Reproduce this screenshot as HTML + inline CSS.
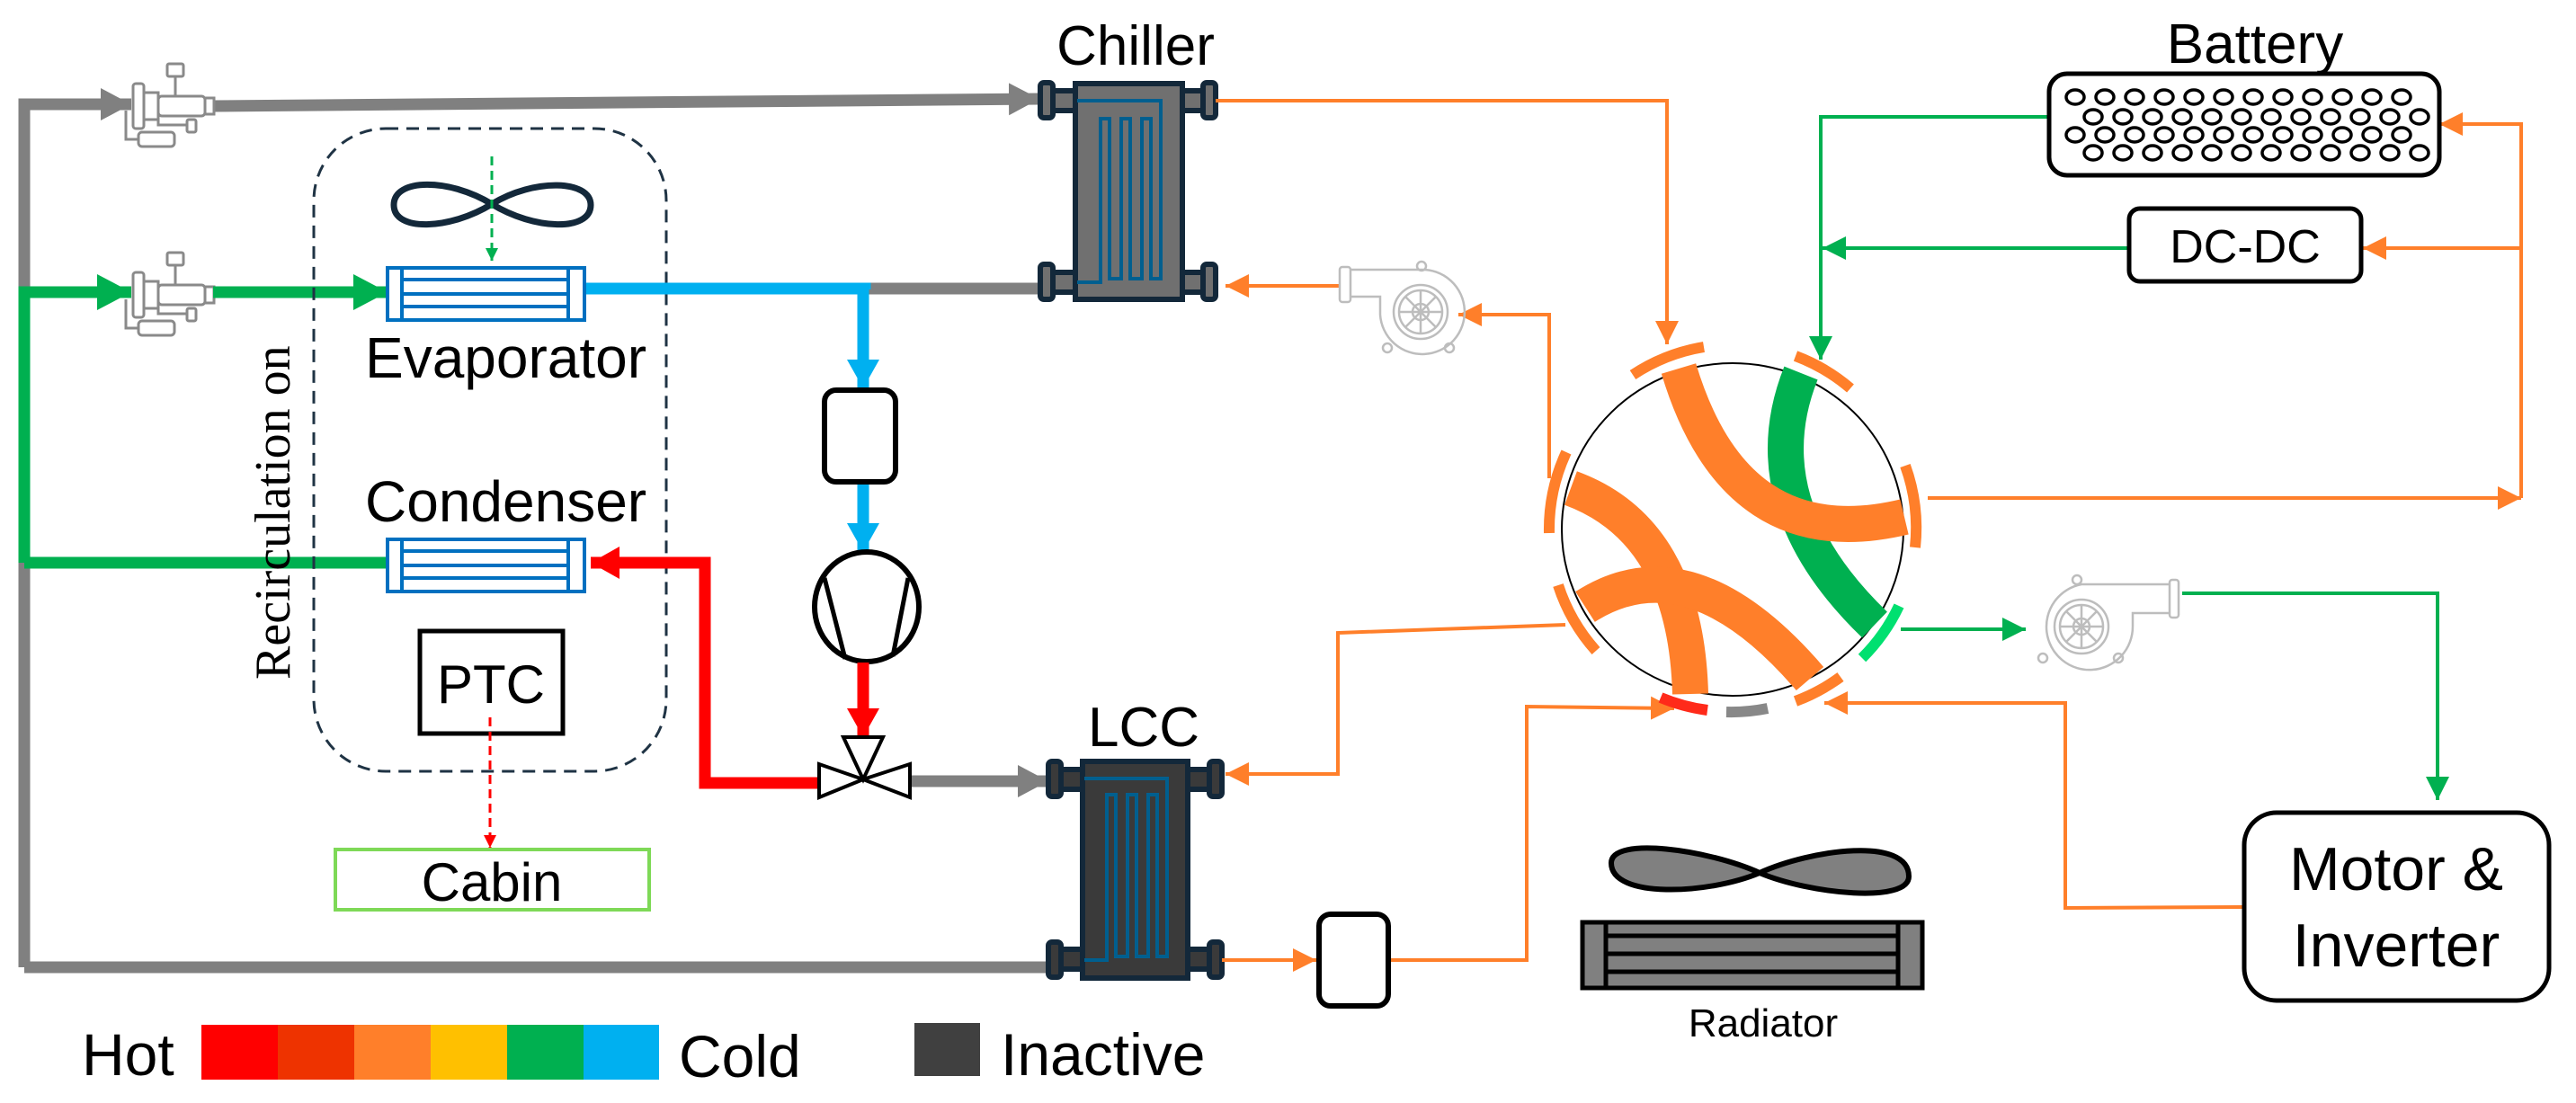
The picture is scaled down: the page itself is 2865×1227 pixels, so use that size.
<!DOCTYPE html>
<html><head><meta charset="utf-8"><style>
html,body{margin:0;padding:0;background:#fff;}
svg{display:block;}
text{font-family:"Liberation Sans",sans-serif;fill:#000;}
</style></head><body>
<svg width="2865" height="1227" viewBox="0 0 2865 1227" xmlns="http://www.w3.org/2000/svg">
<defs>
<marker id="ag" markerUnits="userSpaceOnUse" markerWidth="40" markerHeight="40" refX="34" refY="20" orient="auto"><path d="M0,2 L34,20 L0,38 Z" fill="#808080"/></marker>
<marker id="agr" markerUnits="userSpaceOnUse" markerWidth="44" markerHeight="44" refX="38" refY="22" orient="auto"><path d="M0,2 L38,22 L0,42 Z" fill="#00b050"/></marker>
<marker id="ab" markerUnits="userSpaceOnUse" markerWidth="40" markerHeight="40" refX="32" refY="20" orient="auto"><path d="M0,2 L32,20 L0,38 Z" fill="#00b0f0"/></marker>
<marker id="ar" markerUnits="userSpaceOnUse" markerWidth="40" markerHeight="40" refX="32" refY="20" orient="auto"><path d="M0,2 L32,20 L0,38 Z" fill="#ff0000"/></marker>
<marker id="ao" markerUnits="userSpaceOnUse" markerWidth="30" markerHeight="30" refX="26" refY="15" orient="auto"><path d="M0,2 L26,15 L0,28 Z" fill="#ff7f2a"/></marker>
<marker id="ag2" markerUnits="userSpaceOnUse" markerWidth="30" markerHeight="30" refX="26" refY="15" orient="auto"><path d="M0,2 L26,15 L0,28 Z" fill="#00b050"/></marker>
<marker id="agd" markerUnits="userSpaceOnUse" markerWidth="16" markerHeight="16" refX="14" refY="8" orient="auto"><path d="M0,1 L14,8 L0,15 Z" fill="#00b050"/></marker>
<marker id="ard" markerUnits="userSpaceOnUse" markerWidth="16" markerHeight="16" refX="14" refY="8" orient="auto"><path d="M0,1 L14,8 L0,15 Z" fill="#ff0000"/></marker>
<g id="xv" fill="none" stroke="#8a8a8a" stroke-width="3">
 <rect x="0" y="0" width="12" height="50" rx="3"/>
 <rect x="12" y="10" width="16" height="30"/>
 <rect x="28" y="14" width="52" height="22" rx="4"/>
 <rect x="80" y="16" width="10" height="18"/>
 <rect x="38" y="-22" width="18" height="14" rx="2"/>
 <path d="M47,-8 L47,14"/>
 <path d="M28,38 L28,46 L60,46"/><rect x="60" y="40" width="10" height="14" rx="2"/>
 <path d="M-8,30 L-8,62 L6,62"/><rect x="6" y="54" width="40" height="16" rx="4"/>
</g>
</defs>

<g fill="none" stroke="#808080" stroke-width="13">
 <path d="M27,1076 L27,116 L115,116"/>
 <path d="M237,118 L1156,110" marker-end="url(#ag)"/>
 <path d="M962,321 L1160,321"/>
 <path d="M1010,869 L1166,869" marker-end="url(#ag)"/>
 <path d="M27,1076 L1168,1076"/>
</g>
<path d="M110,116 L146,116" stroke="#808080" stroke-width="13" marker-end="url(#ag)"/>
<use href="#xv" x="148" y="93"/>
<use href="#xv" x="148" y="303"/>
<g fill="none" stroke="#00b050" stroke-width="13">
 <path d="M27,626 L27,325 L110,325" />
 <path d="M110,325 L146,325" marker-end="url(#agr)"/>
 <path d="M237,325 L431,325" marker-end="url(#agr)"/>
 <path d="M27,626 L431,626"/>
</g>
<rect x="349" y="143" width="392" height="715" rx="80" fill="none" stroke="#1f3344" stroke-width="3" stroke-dasharray="14,9"/>
<path d="M547,227 C500,198 438,198 438,228 C438,258 500,256 547,227 C594,198 657,200 657,228 C657,258 594,256 547,227 Z" fill="none" stroke="#13283a" stroke-width="7"/>
<path d="M547,174 L547,290" stroke="#00b050" stroke-width="3" stroke-dasharray="10,6" marker-end="url(#agd)"/>
<g fill="none" stroke="#0070c0" stroke-width="4">
 <rect x="431" y="298" width="219" height="58"/>
 <path d="M447,298 L447,356 M632,298 L632,356 M447,311 L632,311 M447,327 L632,327 M447,341 L632,341"/>
 <rect x="431" y="600" width="219" height="58"/>
 <path d="M447,600 L447,658 M632,600 L632,658 M447,613 L632,613 M447,629 L632,629 M447,643 L632,643"/>
</g>
<text x="406" y="420" font-size="64">Evaporator</text>
<text x="406" y="580" font-size="64">Condenser</text>
<text transform="translate(322,756) rotate(-90)" font-size="56" style="font-family:'Liberation Serif',serif">Recirculation on</text>
<rect x="467" y="702" width="159" height="114" fill="none" stroke="#000" stroke-width="5"/>
<text x="546" y="782" font-size="60" text-anchor="middle">PTC</text>
<path d="M545,798 L545,943" stroke="#ff0000" stroke-width="3" stroke-dasharray="10,6" marker-end="url(#ard)"/>
<rect x="373" y="945" width="349" height="67" fill="none" stroke="#7ed957" stroke-width="4"/>
<text x="547" y="1002" font-size="60" text-anchor="middle">Cabin</text>
<g fill="none" stroke="#00b0f0" stroke-width="13">
 <path d="M652,321 L962,321 L962,322"/>
 <path d="M960,318 L960,432" marker-end="url(#ab)"/>
 <path d="M960,536 L960,614" marker-end="url(#ab)"/>
</g>
<rect x="917" y="434" width="79" height="102" rx="13" fill="#fff" stroke="#000" stroke-width="6"/>
<ellipse cx="964" cy="675" rx="58" ry="61" fill="#fff" stroke="#000" stroke-width="6"/>
<path d="M917,643 L940,733 M1010,643 L993,730" stroke="#000" stroke-width="5"/>
<g fill="none" stroke="#ff0000" stroke-width="13">
 <path d="M960,737 L960,820" marker-end="url(#ar)"/>
 <path d="M912,871 L784,871 L784,626 L657,626" marker-end="url(#ar)"/>
</g>
<g fill="#fff" stroke="#000" stroke-width="4">
 <path d="M938,820 L982,820 L960,867 Z"/>
 <path d="M911,850 L911,887 L960,867 Z"/>
 <path d="M1012,850 L1012,887 L960,867 Z"/>
</g>
<g stroke="#13283a" stroke-width="6">
 <rect x="1160" y="101" width="36" height="22" fill="#707070"/><rect x="1160" y="303" width="36" height="22" fill="#707070"/>
 <rect x="1313" y="101" width="34" height="22" fill="#707070"/><rect x="1313" y="303" width="34" height="22" fill="#707070"/>
 <rect x="1157" y="92" width="14" height="39" rx="4" fill="#707070"/><rect x="1157" y="294" width="14" height="39" rx="4" fill="#707070"/>
 <rect x="1338" y="92" width="14" height="39" rx="4" fill="#707070"/><rect x="1338" y="294" width="14" height="39" rx="4" fill="#707070"/>
 <rect x="1196" y="93" width="119" height="240" fill="#707070"/>
</g>
<path d="M1198,112 L1291,112 L1291,310 L1280,310 L1280,132 L1270,132 L1270,310 L1257,310 L1257,132 L1247,132 L1247,310 L1234,310 L1234,132 L1224,132 L1224,314 L1198,314" fill="none" stroke="#005f8f" stroke-width="4"/>
<text x="1263" y="72" font-size="62" text-anchor="middle">Chiller</text>
<g stroke="#13283a" stroke-width="6">
 <rect x="1168" y="856" width="36" height="22" fill="#3a3a3a"/><rect x="1168" y="1056" width="36" height="22" fill="#3a3a3a"/>
 <rect x="1321" y="856" width="34" height="22" fill="#3a3a3a"/><rect x="1321" y="1056" width="34" height="22" fill="#3a3a3a"/>
 <rect x="1166" y="847" width="14" height="39" rx="4" fill="#3a3a3a"/><rect x="1166" y="1048" width="14" height="39" rx="4" fill="#3a3a3a"/>
 <rect x="1345" y="847" width="14" height="39" rx="4" fill="#3a3a3a"/><rect x="1345" y="1048" width="14" height="39" rx="4" fill="#3a3a3a"/>
 <rect x="1204" y="847" width="117" height="241" fill="#3a3a3a"/>
</g>
<path d="M1206,866 L1298,866 L1298,1064 L1287,1064 L1287,884 L1277,884 L1277,1064 L1264,1064 L1264,884 L1254,884 L1254,1064 L1241,1064 L1241,884 L1231,884 L1231,1068 L1206,1068" fill="none" stroke="#005f8f" stroke-width="4"/>
<text x="1272" y="830" font-size="62" text-anchor="middle">LCC</text>

<g fill="none" stroke="#ff7f2a" stroke-width="4">
 <path d="M1352,112 L1854,112 L1854,383" marker-end="url(#ao)"/>
 <path d="M1489,318 L1363,318" marker-end="url(#ao)"/>
 <path d="M1723,532 L1723,350 L1622,350" marker-end="url(#ao)"/>
 <path d="M1741,695 L1488,704 L1488,861 L1363,861" marker-end="url(#ao)"/>
 <path d="M1359,1068 L1464,1068" marker-end="url(#ao)"/>
 <path d="M1544,1068 L1698,1068 L1698,786 L1862,788" marker-end="url(#ao)"/>
 <path d="M2496,1009 L2297,1010 L2297,782 L2029,782" marker-end="url(#ao)"/>
 <path d="M2144,554 L2804,554" marker-end="url(#ao)"/>
 <path d="M2804,554 L2804,138 L2713,138" marker-end="url(#ao)"/>
 <path d="M2804,276 L2628,276" marker-end="url(#ao)"/>
</g>
<g fill="none" stroke="#00b050" stroke-width="4">
 <path d="M2279,130 L2025,130 L2025,400" marker-end="url(#ag2)"/>
 <path d="M2368,276 L2027,276" marker-end="url(#ag2)"/>
 <path d="M2114,700 L2253,700" marker-end="url(#ag2)"/>
 <path d="M2427,660 L2711,660 L2711,890" marker-end="url(#ag2)"/>
</g>
<g fill="none" stroke="#bdbdbd" stroke-width="2.5">
 <path d="M1502,300 L1580,300 A47,47 0 1 1 1535,350 L1535,330 L1502,330"/>
 <rect x="1490" y="297" width="12" height="39" rx="3"/>
 <circle cx="1580" cy="347" r="30"/><circle cx="1580" cy="347" r="24"/><circle cx="1580" cy="347" r="9"/>
 <path d="M1580,323 L1580,371 M1556,347 L1604,347 M1563,330 L1597,364 M1597,330 L1563,364"/>
 <circle cx="1581" cy="296" r="5"/><circle cx="1543" cy="387" r="5"/><circle cx="1612" cy="387" r="5"/>
 <path d="M2414,650 L2315,650 A48,48 0 1 0 2372,697 L2372,682 L2414,682"/>
 <rect x="2413" y="645" width="10" height="42" rx="3"/>
 <circle cx="2315" cy="697" r="30"/><circle cx="2315" cy="697" r="24"/><circle cx="2315" cy="697" r="9"/>
 <path d="M2315,673 L2315,721 M2291,697 L2339,697 M2298,680 L2332,714 M2332,680 L2298,714"/>
 <circle cx="2310" cy="645" r="5"/><circle cx="2272" cy="732" r="5"/><circle cx="2356" cy="732" r="5"/>
</g>
<rect x="1467" y="1017" width="77" height="102" rx="13" fill="#fff" stroke="#000" stroke-width="6"/>

<ellipse cx="1927" cy="589" rx="190" ry="185" fill="#fff" stroke="#000" stroke-width="2"/>
<g fill="none" stroke-width="40">
 <path d="M2003,415 Q1945,560 2085,695" stroke="#00b050"/>
 <path d="M1867,410 Q1930,620 2118,575" stroke="#ff7f2a"/>
 <path d="M1747,543 Q1875,590 1880,772" stroke="#ff7f2a"/>
 <path d="M1763,675 Q1880,600 2013,755" stroke="#ff7f2a"/>
</g>
<g fill="none" stroke-width="12">
 <path d="M1816,417 A204,204 0 0 1 1895,386" stroke="#ff7f2a"/>
 <path d="M1997,396 A204,204 0 0 1 2058,432" stroke="#ff7f2a"/>
 <path d="M1723,593 A204,204 0 0 1 1742,503" stroke="#ff7f2a"/>
 <path d="M2119,518 A204,204 0 0 1 2130,609" stroke="#ff7f2a"/>
 <path d="M1775,724 A204,204 0 0 1 1733,651" stroke="#ff7f2a"/>
 <path d="M2047,753 A204,204 0 0 1 1997,780" stroke="#ff7f2a"/>
 <path d="M2112,674 A204,204 0 0 1 2071,732" stroke="#00e070"/>
 <path d="M1899,790 A204,204 0 0 1 1847,776" stroke="#ff2a1a"/>
 <path d="M1966,788 A204,204 0 0 1 1920,792" stroke="#888"/>
</g>

<rect x="2279" y="82" width="434" height="113" rx="20" fill="#fff" stroke="#000" stroke-width="5"/>
<g fill="none" stroke="#000" stroke-width="3.5">
 <ellipse cx="2308" cy="108" rx="10" ry="8"/><ellipse cx="2341" cy="108" rx="10" ry="8"/><ellipse cx="2374" cy="108" rx="10" ry="8"/><ellipse cx="2407" cy="108" rx="10" ry="8"/><ellipse cx="2440" cy="108" rx="10" ry="8"/><ellipse cx="2473" cy="108" rx="10" ry="8"/><ellipse cx="2506" cy="108" rx="10" ry="8"/><ellipse cx="2539" cy="108" rx="10" ry="8"/><ellipse cx="2572" cy="108" rx="10" ry="8"/><ellipse cx="2605" cy="108" rx="10" ry="8"/><ellipse cx="2638" cy="108" rx="10" ry="8"/><ellipse cx="2671" cy="108" rx="10" ry="8"/>
 <ellipse cx="2328" cy="130" rx="10" ry="8"/><ellipse cx="2361" cy="130" rx="10" ry="8"/><ellipse cx="2394" cy="130" rx="10" ry="8"/><ellipse cx="2427" cy="130" rx="10" ry="8"/><ellipse cx="2460" cy="130" rx="10" ry="8"/><ellipse cx="2493" cy="130" rx="10" ry="8"/><ellipse cx="2526" cy="130" rx="10" ry="8"/><ellipse cx="2559" cy="130" rx="10" ry="8"/><ellipse cx="2592" cy="130" rx="10" ry="8"/><ellipse cx="2625" cy="130" rx="10" ry="8"/><ellipse cx="2658" cy="130" rx="10" ry="8"/><ellipse cx="2691" cy="130" rx="10" ry="8"/>
 <ellipse cx="2308" cy="150" rx="10" ry="8"/><ellipse cx="2341" cy="150" rx="10" ry="8"/><ellipse cx="2374" cy="150" rx="10" ry="8"/><ellipse cx="2407" cy="150" rx="10" ry="8"/><ellipse cx="2440" cy="150" rx="10" ry="8"/><ellipse cx="2473" cy="150" rx="10" ry="8"/><ellipse cx="2506" cy="150" rx="10" ry="8"/><ellipse cx="2539" cy="150" rx="10" ry="8"/><ellipse cx="2572" cy="150" rx="10" ry="8"/><ellipse cx="2605" cy="150" rx="10" ry="8"/><ellipse cx="2638" cy="150" rx="10" ry="8"/><ellipse cx="2671" cy="150" rx="10" ry="8"/>
 <ellipse cx="2328" cy="170" rx="10" ry="8"/><ellipse cx="2361" cy="170" rx="10" ry="8"/><ellipse cx="2394" cy="170" rx="10" ry="8"/><ellipse cx="2427" cy="170" rx="10" ry="8"/><ellipse cx="2460" cy="170" rx="10" ry="8"/><ellipse cx="2493" cy="170" rx="10" ry="8"/><ellipse cx="2526" cy="170" rx="10" ry="8"/><ellipse cx="2559" cy="170" rx="10" ry="8"/><ellipse cx="2592" cy="170" rx="10" ry="8"/><ellipse cx="2625" cy="170" rx="10" ry="8"/><ellipse cx="2658" cy="170" rx="10" ry="8"/><ellipse cx="2691" cy="170" rx="10" ry="8"/>
</g>
<text x="2508" y="70" font-size="62" text-anchor="middle">Battery</text>
<rect x="2368" y="232" width="258" height="81" rx="12" fill="#fff" stroke="#000" stroke-width="5"/>
<text x="2497" y="292" font-size="52" text-anchor="middle">DC-DC</text>
<rect x="2496" y="904" width="339" height="209" rx="36" fill="#fff" stroke="#000" stroke-width="5"/>
<text x="2665" y="990" font-size="68" text-anchor="middle">Motor &amp;</text>
<text x="2665" y="1075" font-size="68" text-anchor="middle">Inverter</text>
<path d="M1957,971 C1900,945 1792,930 1792,960 C1792,1000 1900,995 1957,971 C2014,945 2123,930 2123,975 C2123,1005 2014,995 1957,971 Z" fill="#808080" stroke="#000" stroke-width="6"/>
<rect x="1760" y="1026" width="378" height="73" fill="#808080" stroke="#000" stroke-width="5"/>
<path d="M1786,1026 L1786,1099 M2111,1026 L2111,1099 M1786,1041 L2111,1041 M1786,1061 L2111,1061 M1786,1081 L2111,1081" stroke="#000" stroke-width="5"/>
<text x="1961" y="1153" font-size="44" text-anchor="middle">Radiator</text>

<text x="91" y="1196" font-size="66">Hot</text>
<rect x="224" y="1140" width="86" height="61" fill="#ff0000"/>
<rect x="309" y="1140" width="86" height="61" fill="#ee3300"/>
<rect x="394" y="1140" width="86" height="61" fill="#ff7f2a"/>
<rect x="479" y="1140" width="86" height="61" fill="#ffc000"/>
<rect x="564" y="1140" width="86" height="61" fill="#00b050"/>
<rect x="649" y="1140" width="84" height="61" fill="#00b0f0"/>
<text x="755" y="1198" font-size="66">Cold</text>
<rect x="1017" y="1138" width="73" height="59" fill="#404040"/>
<text x="1113" y="1196" font-size="66">Inactive</text>
</svg>
</body></html>
